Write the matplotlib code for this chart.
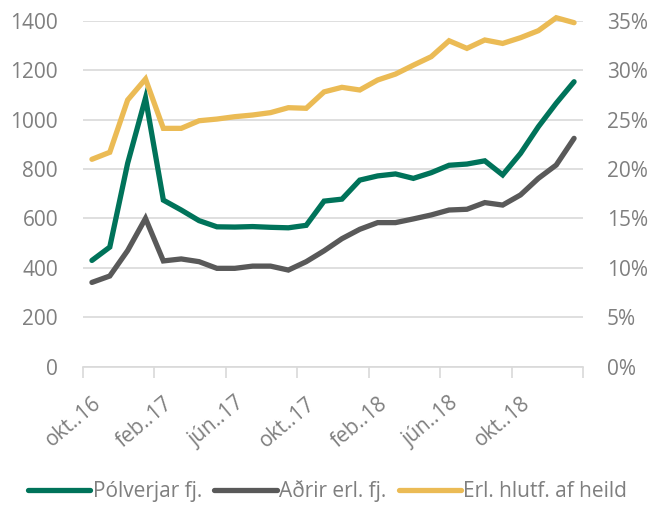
import matplotlib
matplotlib.use("Agg")
import matplotlib.pyplot as plt
import numpy as np

plt.rcParams['font.family'] = ['Open Sans', 'DejaVu Sans']

months = ["okt..16","nóv..16","des..16","jan..17","feb..17","mar..17","apr..17","maí..17",
          "jún..17","júl..17","ágú..17","sep..17","okt..17","nóv..17","des..17","jan..18",
          "feb..18","mar..18","apr..18","maí..18","jún..18","júl..18","ágú..18","sep..18",
          "okt..18","nóv..18","des..18","jan..19"]
polverjar = [430, 484, 823, 1087, 674, 634, 591, 566, 565, 567, 564, 562, 572, 670,
             678, 755, 772, 780, 762, 785, 815, 820, 833, 776, 863, 971, 1066, 1153]
adrir = [341, 367, 470, 600, 428, 436, 425, 398, 398, 407, 407, 391, 425, 469,
         518, 556, 583, 583, 598, 614, 634, 637, 664, 654, 695, 762, 816, 924]
hlutf = [20.98, 21.69, 26.98, 29.1, 24.11, 24.11, 24.88, 25.05, 25.29, 25.46, 25.7, 26.2,
         26.14, 27.8, 28.26, 27.99, 29.0, 29.6, 30.5, 31.36, 32.97, 32.2, 33.05, 32.7,
         33.28, 33.99, 35.3, 34.8]
labels = ["Pólverjar fj.", "Aðrir erl. fj.", "Erl. hlutf. af heild"]
left_ticks = [0, 200, 400, 600, 800, 1000, 1200, 1400]
right_ticks = [0, 5, 10, 15, 20, 25, 30, 35]

green = "#00735A"
gray = "#595959"
yellow = "#EBBB55"
txt = "#7F7F7F"
grid = "#D9D9D9"

fig = plt.figure(figsize=(6.55, 5.07), dpi=100)
ax = fig.add_axes([83/655, 1-366.7/507, 500/655, (366.7-20.7)/507])
ax2 = ax.twinx()

x = np.arange(len(months))
l1, = ax.plot(x, polverjar, color=green, lw=3.8, solid_capstyle='round', solid_joinstyle='miter', zorder=3)
l2, = ax.plot(x, adrir, color=gray, lw=3.8, solid_capstyle='round', solid_joinstyle='miter', zorder=3)
l3, = ax2.plot(x, hlutf, color=yellow, lw=3.8, solid_capstyle='round', solid_joinstyle='miter', clip_on=False, zorder=3)

ax.set_xlim(-0.5, len(months) - 0.5)
ax.set_ylim(0, 1400)
ax2.set_ylim(0, 35)
ax.set_yticks(left_ticks)
ax.set_yticklabels([str(v) for v in left_ticks])
ax2.set_yticks(right_ticks)
ax2.set_yticklabels([f"{v}%" for v in right_ticks])

for a in (ax, ax2):
    for s in a.spines.values():
        s.set_visible(False)
ax.spines['bottom'].set_visible(True)
ax.spines['bottom'].set_color(grid)
ax.spines['bottom'].set_linewidth(1.2)

ax.grid(axis='y', color=grid, lw=1.2)
ax.set_axisbelow(True)
ax.tick_params(axis='y', length=0, labelsize=15, labelcolor=txt, pad=18)
ax2.tick_params(axis='y', length=0, labelsize=15, labelcolor=txt, pad=17)

# category boundaries ticks and labels at centers
ax.set_xticks(np.arange(-0.5, len(months), 4))
ax.set_xticklabels([])
ax.tick_params(axis='x', which='major', length=8, width=1.2, color=grid)
ax.set_xticks(x[::4], minor=True)
ax.set_xticklabels([months[i] for i in x[::4]], minor=True, rotation=40,
                   ha='right', rotation_mode='anchor', fontsize=15, color=txt)
ax.tick_params(axis='x', which='minor', length=0, pad=19)

fig.legend([l1, l2, l3], labels, loc='lower center', bbox_to_anchor=(0.5, -0.028),
           ncol=3, frameon=False, fontsize=15, labelcolor=txt, handlelength=3.0,
           handletextpad=0.1, columnspacing=0.6)

fig.savefig("out.png", dpi=100)
